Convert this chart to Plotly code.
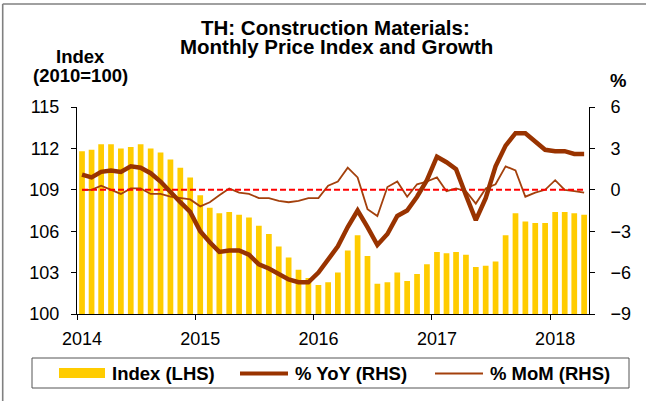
import pandas as pd
import plotly.graph_objects as go

# ---------------- data ----------------
months = pd.date_range("2014-01-01", periods=52, freq="MS")

index_lhs = [111.8, 111.9, 112.3, 112.3, 112.0, 112.1, 112.3, 112.0, 111.7, 111.2, 110.6, 109.9,
             108.6, 107.7, 107.3, 107.4, 107.2, 107.0, 106.4, 105.8, 104.9, 104.1, 103.2, 102.6,
             102.1, 102.3, 103.0, 104.6, 105.7, 104.2, 102.2, 102.3, 103.0, 102.4, 102.9, 103.6,
             104.5, 104.4, 104.5, 104.3, 103.4, 103.5, 103.8, 105.7, 107.3, 106.7, 106.6, 106.6,
             107.4, 107.4, 107.3, 107.2]

yoy_rhs = [1.1, 0.9, 1.3, 1.4, 1.3, 1.7, 1.6, 1.2, 0.6, -0.2, -0.9, -1.6,
           -3.0, -3.8, -4.5, -4.4, -4.4, -4.7, -5.4, -5.7, -6.1, -6.5, -6.7, -6.7,
           -6.0, -5.1, -4.1, -2.7, -1.5, -2.7, -4.0, -3.2, -1.9, -1.5, -0.5, 0.7,
           2.4, 2.0, 1.5, -0.4, -2.2, -0.6, 1.7, 3.2, 4.1, 4.1, 3.5, 2.9,
           2.8, 2.8, 2.6, 2.6]

mom_rhs = [0.0, 0.0, 0.3, 0.0, -0.3, 0.1, 0.1, -0.3, -0.3, -0.5, -0.6, -0.7,
           -1.2, -0.9, -0.4, 0.1, -0.2, -0.3, -0.6, -0.6, -0.8, -0.9, -0.8, -0.6,
           -0.6, 0.3, 0.6, 1.6, 0.9, -1.4, -1.9, 0.2, 0.6, -0.5, 0.4, 0.6,
           0.9, -0.1, 0.1, -0.1, -1.0, 0.1, 0.4, 1.7, 1.4, -0.5, -0.2, 0.0,
           0.7, 0.0, -0.1, -0.2]

zero_ref = [0] * len(months)

year_ticks = ["2014-01-01", "2015-01-01", "2016-01-01", "2017-01-01", "2018-01-01"]
year_labels = ["2014", "2015", "2016", "2017", "2018"]
left_ticks = [100, 103, 106, 109, 112, 115]
right_ticks = [-9, -6, -3, 0, 3, 6]

series_names = ["Index (LHS)", "% YoY (RHS)", "% MoM (RHS)"]

# ---------------- style ----------------
FONT = "Liberation Sans, Arial, sans-serif"
BAR = "#FFCC00"
BROWN = "#993300"
MOM = "#A3400C"
W, H = 646, 401
L, R, T, B = 77, 57, 107, 87
PW, PH = W - L - R, H - T - B


def px(x):
    return (x - L) / PW


def py(y):
    return (H - B - y) / PH


DAY_MS = 86400000
bar_width = 0.58 * 30.44 * DAY_MS

fig = go.Figure()
fig.add_trace(go.Bar(x=months, y=index_lhs, name=series_names[0], marker_color=BAR,
                     marker_line_width=0, width=bar_width,
                     xperiod="M1", xperiodalignment="middle", yaxis="y", showlegend=False))
fig.add_trace(go.Scatter(x=months, y=mom_rhs, name=series_names[2], mode="lines",
                         line=dict(color=MOM, width=1.8), xperiod="M1", xperiodalignment="middle",
                         yaxis="y2", showlegend=False))
fig.add_trace(go.Scatter(x=months, y=zero_ref, mode="lines",
                         line=dict(color="#FF0000", width=2, dash="6px,3px"),
                         xperiod="M1", xperiodalignment="middle", yaxis="y2", showlegend=False,
                         hoverinfo="skip"))
fig.add_trace(go.Scatter(x=months, y=yoy_rhs, name=series_names[1], mode="lines",
                         line=dict(color=BROWN, width=4.5), xperiod="M1", xperiodalignment="middle",
                         yaxis="y2", showlegend=False))

axis_font = dict(family=FONT, size=18, color="#000000")
fig.update_layout(
    width=W, height=H,
    margin=dict(l=L, r=R, t=T, b=B, pad=0),
    paper_bgcolor="white", plot_bgcolor="white",
    font=dict(family=FONT, color="#000000"),
    xaxis=dict(type="date", range=["2014-01-01", "2018-05-01"], tickvals=year_ticks,
               ticktext=year_labels, ticks="outside", ticklen=5, tickcolor="#000000",
               showline=True, linecolor="#000000", linewidth=1, showgrid=False, zeroline=False,
               tickfont=axis_font, ticklabelshift=5, ticklabelstandoff=3, automargin=False),
    yaxis=dict(range=[100, 115], tickvals=left_ticks, ticks="outside", ticklen=5,
               tickcolor="#000000", showline=True, linecolor="#000000", linewidth=1,
               showgrid=False, zeroline=False, tickfont=axis_font, ticklabelstandoff=8,
               automargin=False),
    yaxis2=dict(range=[-9, 6], tickvals=right_ticks, overlaying="y", side="right",
                ticks="outside", ticklen=5, tickcolor="#000000", showline=True,
                linecolor="#000000", linewidth=1, showgrid=False, zeroline=False,
                tickfont=axis_font, ticklabelstandoff=12, automargin=False),
    showlegend=False,
    bargap=0.4,
)

# ---------------- text ----------------
bold = dict(family=FONT, size=18.5, color="#000000")
title_font = dict(family=FONT, size=20.5, color="#000000")
ann = [
    dict(text="<b>TH: Construction Materials:</b>", x=px(335.5), y=py(27), font=title_font),
    dict(text="<b>Monthly Price Index and Growth</b>", x=px(336), y=py(46.5), font=title_font),
    dict(text="<b>Index</b>", x=px(80), y=py(56), font=bold),
    dict(text="<b>(2010=100)</b>", x=px(80), y=py(75), font=bold),
    dict(text="<b>%</b>", x=px(618), y=py(80), font=bold),
]
for a in ann:
    fig.add_annotation(xref="paper", yref="paper", xanchor="center", yanchor="middle",
                       showarrow=False, **a)

# ---------------- custom legend ----------------
shapes = [
    # outer chart frame (top and left edges visible)
    dict(type="line", x0=px(2.7), x1=px(W + 5), y0=py(4), y1=py(4),
         line=dict(color="#808080", width=1.6)),
    dict(type="line", x0=px(2.7), x1=px(2.7), y0=py(4), y1=py(H + 5),
         line=dict(color="#808080", width=1.6)),
    # legend box
    dict(type="rect", x0=px(32), x1=px(629), y0=py(358), y1=py(388),
         line=dict(color="#555555", width=1), fillcolor="white"),
    dict(type="rect", x0=px(59), x1=px(105), y0=py(368), y1=py(378),
         line=dict(width=0), fillcolor=BAR),
    dict(type="line", x0=px(240), x1=px(288), y0=py(373.5), y1=py(373.5),
         line=dict(color=BROWN, width=4)),
    dict(type="line", x0=px(435), x1=px(483), y0=py(373.5), y1=py(373.5),
         line=dict(color=MOM, width=1.8)),
]
for s in shapes:
    fig.add_shape(xref="paper", yref="paper", layer="above", **s)

for name, xl in zip(series_names, [110, 293, 488]):
    fig.add_annotation(xref="paper", yref="paper", x=px(xl), y=py(373), xanchor="left",
                       yanchor="middle", showarrow=False, text=f"<b>{name}</b>", font=bold)

fig.write_html("out.html", config={"displayModeBar": False},
               post_script="document.body.style.margin='0';document.body.style.padding='0';")
